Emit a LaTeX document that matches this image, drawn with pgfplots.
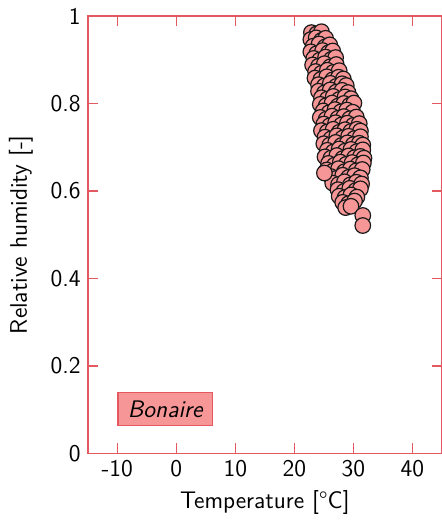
\documentclass[border=0pt]{standalone}
\usepackage{pgfplots}
\pgfplotsset{compat=1.18}
\definecolor{axred}{RGB}{228,88,96}
\definecolor{ptfill}{RGB}{246,150,150}
\begin{document}
\begin{tikzpicture}
\begin{axis}[name=ax,
  scale only axis, width=177.3pt, height=219pt,
  xmin=-15, xmax=45, ymin=0, ymax=1,
  xtick={-10,0,10,20,30,40}, ytick={0,0.2,0.4,0.6,0.8,1},
  yticklabels={0,0.2,0.4,0.6,0.8,1},
  tick align=inside, tick pos=both,
  axis line style={draw=axred, line width=0.9pt},
  every tick/.style={draw=axred, line width=0.7pt},
  major tick length=5pt,
  tick label style={font=\sffamily\large, text=black},
  /pgf/number format/assume math mode=true,
  label style={font=\sffamily\large, text=black},
  xlabel={Temperature [\textdegree C]},
  ylabel={Relative humidity [-]},
  ylabel shift=2pt,
  clip=false,
]
\addplot[only marks, mark=*, mark size=3.9pt,
  mark options={fill=ptfill, draw=black!90, line width=0.6pt}] table {
T RH
22.9 0.962
23.8 0.959
24.6 0.964
22.8 0.946
23.7 0.950
24.6 0.944
25.3 0.949
23.2 0.931
24.2 0.936
25.2 0.929
26.0 0.934
22.8 0.918
23.8 0.914
24.8 0.921
25.8 0.916
26.5 0.920
23.3 0.903
24.3 0.899
25.3 0.906
26.3 0.901
27.0 0.905
23.1 0.888
24.1 0.885
25.1 0.891
26.1 0.884
27.1 0.889
23.6 0.873
24.6 0.869
25.6 0.876
26.6 0.871
27.6 0.875
23.5 0.858
24.5 0.855
25.5 0.861
26.5 0.854
27.5 0.860
28.3 0.856
24.1 0.843
25.1 0.840
26.1 0.846
27.1 0.839
28.1 0.845
28.8 0.841
24.1 0.828
25.1 0.824
26.1 0.831
27.1 0.826
28.1 0.830
29.1 0.825
24.6 0.813
25.6 0.810
26.6 0.816
27.6 0.809
28.6 0.815
29.6 0.811
24.4 0.798
25.4 0.795
26.4 0.801
27.4 0.794
28.4 0.800
29.4 0.796
30.1 0.801
24.9 0.783
25.9 0.779
26.9 0.786
27.9 0.781
28.9 0.785
29.9 0.780
24.4 0.768
25.4 0.764
26.4 0.771
27.4 0.766
28.4 0.770
29.4 0.765
30.5 0.769
25.0 0.753
26.0 0.749
27.0 0.756
28.0 0.751
29.0 0.755
30.0 0.750
31.0 0.754
24.6 0.738
25.6 0.735
26.6 0.741
27.6 0.734
28.6 0.740
29.6 0.736
30.6 0.741
31.2 0.737
25.2 0.723
26.2 0.719
27.2 0.726
28.2 0.721
29.2 0.725
30.2 0.720
31.2 0.724
25.0 0.708
26.0 0.705
27.0 0.711
28.0 0.704
29.0 0.710
30.0 0.706
31.0 0.709
31.6 0.705
25.6 0.693
26.6 0.689
27.6 0.696
28.6 0.691
29.6 0.695
30.6 0.690
31.6 0.694
25.2 0.678
26.2 0.675
27.2 0.681
28.2 0.674
29.2 0.680
30.2 0.676
31.2 0.679
31.8 0.675
25.8 0.663
26.8 0.659
27.8 0.666
28.8 0.661
29.8 0.665
30.8 0.660
31.7 0.664
25.5 0.648
26.5 0.645
27.5 0.651
28.5 0.644
29.5 0.650
30.5 0.646
31.5 0.649
26.2 0.633
27.2 0.629
28.2 0.636
29.2 0.631
30.2 0.635
31.2 0.630
26.5 0.618
27.5 0.615
28.5 0.621
29.5 0.614
30.5 0.620
31.4 0.616
27.4 0.603
28.4 0.599
29.4 0.606
30.4 0.601
31.2 0.605
27.6 0.588
28.6 0.585
29.6 0.591
30.6 0.586
28.2 0.574
29.2 0.571
30.2 0.577
28.7 0.562
29.6 0.565
25.1 0.641
31.6 0.544
31.6 0.521
};
\node[draw=axred, fill=ptfill, text=black, font=\sffamily\itshape\large, inner xsep=5pt, inner ysep=4pt,
  anchor=south west, line width=0.7pt] at (axis cs:-10,0.062) {Bonaire};
\end{axis}
\pgfresetboundingbox
\useasboundingbox ([shift={(-43.9pt,-34.3pt)}]ax.south west) rectangle ([shift={(0pt,8pt)}]ax.north east);
\end{tikzpicture}
\end{document}
